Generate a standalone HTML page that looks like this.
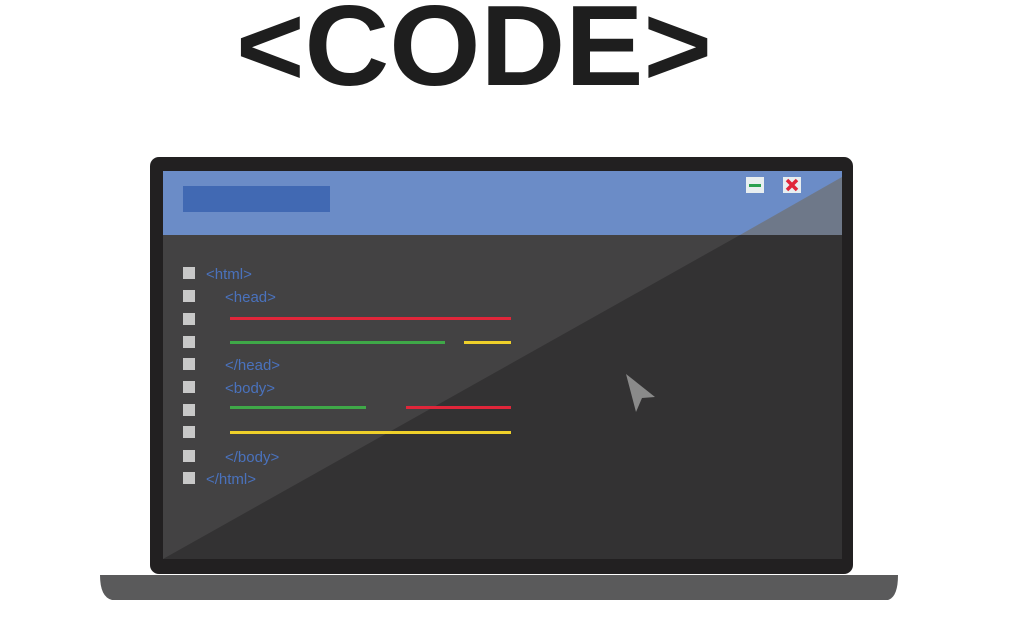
<!DOCTYPE html>
<html><head><style>
html,body{margin:0;padding:0;background:#fff;width:1024px;height:635px;overflow:hidden}
svg{display:block}
</style></head><body>
<svg width="1024" height="635" viewBox="0 0 1024 635" xmlns="http://www.w3.org/2000/svg">
<text x="474" y="85" text-anchor="middle" font-family="Liberation Sans, sans-serif" font-weight="bold" font-size="114" fill="#1e1e1e" textLength="476" lengthAdjust="spacingAndGlyphs">&lt;CODE&gt;</text>
<path d="M100 575 L898 575 Q898 597 888 600 L112 600 Q100 597 100 575 Z" fill="#5a5a5b"/>
<rect x="150" y="157" width="703" height="417" rx="9" fill="#222021"/>
<rect x="163" y="171" width="679" height="388" fill="#333233"/>
<rect x="163" y="171" width="679" height="64" fill="#6b8cc7"/>
<clipPath id="c"><rect x="163" y="171" width="679" height="388"/></clipPath>
<g clip-path="url(#c)">
<polygon points="163,235 740,235 163,559" fill="#434243"/>
<polygon points="740,235 842,177 842,235" fill="#6e7889"/>
</g>
<rect x="183" y="186" width="147" height="26" fill="#4169b3"/>
<rect x="746" y="177" width="18" height="16" fill="#e8eef0"/>
<rect x="749" y="184" width="12" height="3" fill="#2aa050"/>
<rect x="783" y="177" width="18" height="16" fill="#e8eef0"/>
<path d="M787 180 L797 190 M797 180 L787 190" stroke="#e0263a" stroke-width="3.5"/>
<g fill="#c8c8c8">
<rect x="183" y="267" width="12" height="12"/><rect x="183" y="290" width="12" height="12"/>
<rect x="183" y="313" width="12" height="12"/><rect x="183" y="336" width="12" height="12"/>
<rect x="183" y="358" width="12" height="12"/><rect x="183" y="381" width="12" height="12"/>
<rect x="183" y="404" width="12" height="12"/><rect x="183" y="426" width="12" height="12"/>
<rect x="183" y="450" width="12" height="12"/><rect x="183" y="472" width="12" height="12"/>
</g>
<g font-family="Liberation Sans, sans-serif" font-size="15" fill="#4a72bd">
<text x="206" y="279">&lt;html&gt;</text>
<text x="225" y="302">&lt;head&gt;</text>
<text x="225" y="370">&lt;/head&gt;</text>
<text x="225" y="393">&lt;body&gt;</text>
<text x="225" y="462">&lt;/body&gt;</text>
<text x="206" y="484">&lt;/html&gt;</text>
</g>
<g stroke-width="3">
<line x1="230" y1="318.5" x2="511" y2="318.5" stroke="#e0263a"/>
<line x1="230" y1="342.5" x2="445" y2="342.5" stroke="#3fa848"/>
<line x1="464" y1="342.5" x2="511" y2="342.5" stroke="#efd02a"/>
<line x1="230" y1="407.5" x2="366" y2="407.5" stroke="#3fa848"/>
<line x1="406" y1="407.5" x2="511" y2="407.5" stroke="#e0263a"/>
<line x1="230" y1="432.5" x2="511" y2="432.5" stroke="#efd02a"/>
</g>
<polygon points="626,374 655,397 642,398 636,412" fill="#8a8a8a"/>
</svg>
</body></html>
